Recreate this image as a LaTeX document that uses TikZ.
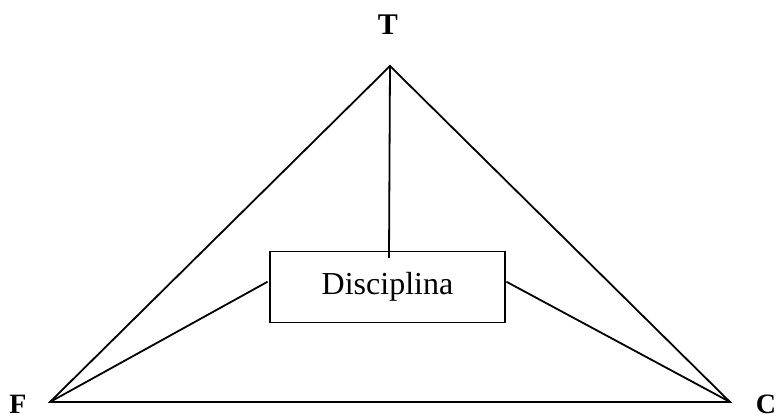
\documentclass[tikz,border=0pt]{standalone}
\usepackage{fontspec}
\setmainfont{Liberation Serif}
\usetikzlibrary{positioning,calc}
\tikzset{
  edgeln/.style={line width=1.8pt, line cap=round, line join=miter, black},
  boxnd/.style={draw, line width=1.8pt, minimum width=235pt, minimum height=71pt, inner sep=0pt,
    font=\fontsize{32}{38}\selectfont},
  vlabel/.style={font=\fontsize{30}{36}\selectfont\bfseries, inner sep=0pt},
}
\begin{document}
\begin{tikzpicture}[x=1pt,y=1pt]
    \useasboundingbox (0,0) rectangle (777,417);
    \coordinate (top) at (390,351);
    \coordinate (left) at (50,15);
    \coordinate (right) at (730,15);
    \node[boxnd] (disc) at (387.5,130) {Disciplina};
    \coordinate (dtop) at ($(disc.north)+(1.5,-7)$);
    \coordinate (dwest) at ($(disc.west)+(-2,5)$);
    \coordinate (deast) at ($(disc.east)+(1,5)$);
    \node[vlabel] (tlab) at (388,392) {T};
    \node[vlabel, font=\fontsize{28}{34}\selectfont\bfseries] (flab) at (18,12.5) {F};
    \node[vlabel, font=\fontsize{28}{34}\selectfont\bfseries] (clab) at (766,12.5) {C};
    \draw[edgeln] (left) -- (top) -- (right) -- cycle;
    \draw[edgeln] (top) -- (dtop);
    \draw[edgeln] (left) -- (dwest);
    \draw[edgeln] (right) -- (deast);
  \end{tikzpicture}
\end{document}
